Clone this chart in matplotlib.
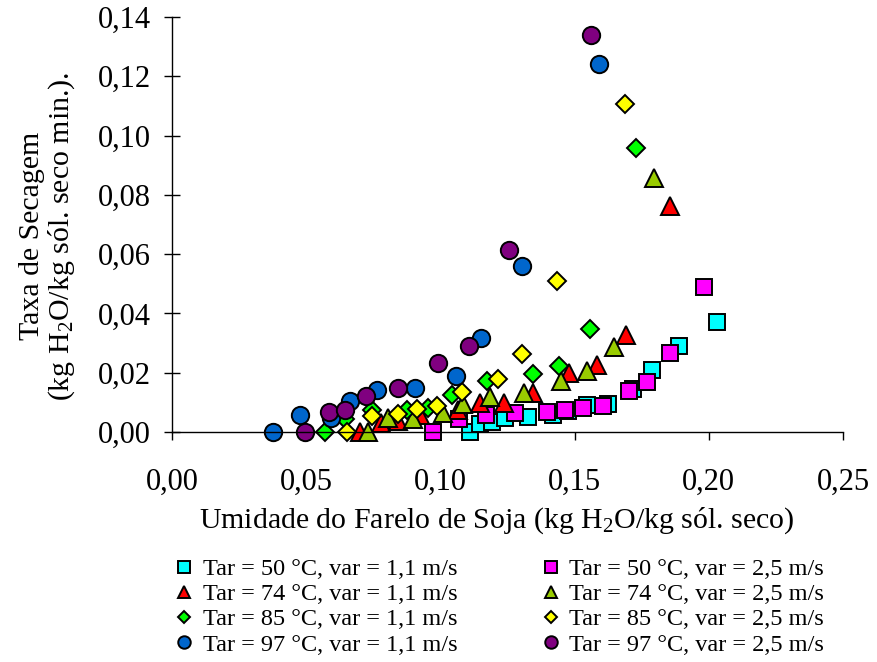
import matplotlib
matplotlib.use("Agg")
import matplotlib.pyplot as plt
from matplotlib.ticker import FuncFormatter, MultipleLocator

plt.rcParams['font.family'] = ['Liberation Serif', 'DejaVu Serif']
plt.rcParams['mathtext.fontset'] = 'custom'
plt.rcParams['mathtext.rm'] = 'Liberation Serif'
plt.rcParams['mathtext.it'] = 'Liberation Serif:italic'

# 50 °C, 1,1 m/s
x_50_11 = [0.1110, 0.1147, 0.1192, 0.1240, 0.1325, 0.1418, 0.1474, 0.1545, 0.1623, 0.1716, 0.1790, 0.1890, 0.2032]
y_50_11 = [0.0000, 0.0027, 0.0034, 0.0047, 0.0051, 0.0057, 0.0071, 0.0091, 0.0094, 0.0145, 0.0209, 0.0290, 0.0371]
# 50 °C, 2,5 m/s
x_50_25 = [0.0972, 0.1069, 0.1170, 0.1277, 0.1396, 0.1463, 0.1530, 0.1604, 0.1701, 0.1768, 0.1857, 0.1983]
y_50_25 = [0.0000, 0.0044, 0.0057, 0.0064, 0.0067, 0.0074, 0.0081, 0.0088, 0.0138, 0.0169, 0.0267, 0.0489]
# 74 °C, 1,1 m/s
x_74_11 = [0.0701, 0.0779, 0.0842, 0.0924, 0.1065, 0.1147, 0.1236, 0.1344, 0.1478, 0.1582, 0.1693, 0.1857]
y_74_11 = [0.0000, 0.0030, 0.0037, 0.0057, 0.0074, 0.0098, 0.0098, 0.0132, 0.0199, 0.0226, 0.0327, 0.0762]
# 74 °C, 2,5 m/s
x_74_25 = [0.0732, 0.0806, 0.0898, 0.1009, 0.1084, 0.1184, 0.1310, 0.1449, 0.1545, 0.1646, 0.1794]
y_74_25 = [0.0000, 0.0047, 0.0044, 0.0064, 0.0094, 0.0118, 0.0132, 0.0172, 0.0206, 0.0287, 0.0857]
# 85 °C, 1,1 m/s
x_85_11 = [0.0571, 0.0645, 0.0745, 0.0875, 0.0954, 0.1043, 0.1173, 0.1344, 0.1441, 0.1556, 0.1727]
y_85_11 = [0.0000, 0.0044, 0.0074, 0.0074, 0.0081, 0.0125, 0.0172, 0.0196, 0.0223, 0.0347, 0.0958]
# 85 °C, 2,5 m/s
x_85_25 = [0.0653, 0.0745, 0.0842, 0.0913, 0.0987, 0.1080, 0.1214, 0.1303, 0.1433, 0.1686]
y_85_25 = [0.0000, 0.0054, 0.0061, 0.0078, 0.0088, 0.0135, 0.0179, 0.0263, 0.0509, 0.1107]
# 97 °C, 1,1 m/s
x_97_11 = [0.0377, 0.0478, 0.0593, 0.0664, 0.0765, 0.0905, 0.1058, 0.1151, 0.1303, 0.1590]
y_97_11 = [0.0000, 0.0057, 0.0047, 0.0105, 0.0142, 0.0148, 0.0189, 0.0317, 0.0560, 0.1240]
# 97 °C, 2,5 m/s
x_97_25 = [0.0496, 0.0586, 0.0645, 0.0723, 0.0842, 0.0991, 0.1106, 0.1255, 0.1560]
y_97_25 = [0.0000, 0.0067, 0.0074, 0.0121, 0.0148, 0.0233, 0.0290, 0.0614, 0.1340]

labels = [
    "Tar = 50 °C, var = 1,1 m/s", "Tar = 50 °C, var = 2,5 m/s",
    "Tar = 74 °C, var = 1,1 m/s", "Tar = 74 °C, var = 2,5 m/s",
    "Tar = 85 °C, var = 1,1 m/s", "Tar = 85 °C, var = 2,5 m/s",
    "Tar = 97 °C, var = 1,1 m/s", "Tar = 97 °C, var = 2,5 m/s",
]
xs = [x_50_11, x_50_25, x_74_11, x_74_25, x_85_11, x_85_25, x_97_11, x_97_25]
ys = [y_50_11, y_50_25, y_74_11, y_74_25, y_85_11, y_85_25, y_97_11, y_97_25]
markers = ['s', 's', '^', '^', 'D', 'D', 'o', 'o']
sizes = [11.5, 11.5, 12.5, 12.5, 9.0, 9.0, 12.5, 12.5]
colors = ['#00FFFF', '#FF00FF', '#FF0000', '#99CC00', '#00FF00', '#FFFF00', '#0066CC', '#800080']

fig = plt.figure(figsize=(8.78, 6.62), dpi=100)
ax = fig.add_axes([172/878, 1 - 432/662, (843-172)/878, (432-17)/662])

handles = []
for x, y, m, s, c, l in zip(xs, ys, markers, sizes, colors, labels):
    h, = ax.plot(x, y, linestyle='none', marker=m, markersize=s,
                 markerfacecolor=c, markeredgecolor='black', markeredgewidth=1.4,
                 label=l, clip_on=False)
    handles.append(h)

ax.set_xlim(0, 0.25)
ax.set_ylim(0, 0.14)
ax.xaxis.set_major_locator(MultipleLocator(0.05))
ax.yaxis.set_major_locator(MultipleLocator(0.02))
fmt = FuncFormatter(lambda v, p: f"{v:.2f}".replace('.', ','))
ax.xaxis.set_major_formatter(fmt)
ax.yaxis.set_major_formatter(fmt)
ax.spines['top'].set_visible(False)
ax.spines['right'].set_visible(False)
ax.spines['left'].set_linewidth(1.0)
ax.spines['bottom'].set_linewidth(1.0)
ax.tick_params(axis='y', direction='inout', length=12, width=1.0, labelsize=22, pad=9)
ax.tick_params(axis='x', direction='out', length=6, width=1.0, labelsize=22, pad=20)

fig.text(497/878, 1 - 521/662, "Umidade do Farelo de Soja (kg H$_2$O/kg sól. seco)",
         fontsize=21.5, ha='center', va='center')
fig.text(48/878, 1 - 236/662, "Taxa de Secagem\n(kg H$_2$O/kg sól. seco min.).",
         fontsize=21.5, ha='center', va='center', rotation=90,
         multialignment='center', linespacing=1.05)

order = [0, 2, 4, 6, 1, 3, 5, 7]
leg = fig.legend([handles[i] for i in order], [labels[i] for i in order],
                 ncol=2, loc='upper left', bbox_to_anchor=(175/878, 1 - 558/662),
                 frameon=False, fontsize=17.5, markerscale=0.72, handlelength=0.75,
                 handletextpad=0.4, columnspacing=3.45, labelspacing=0.13,
                 borderpad=0, borderaxespad=0)

fig.savefig("out.png", dpi=100)
